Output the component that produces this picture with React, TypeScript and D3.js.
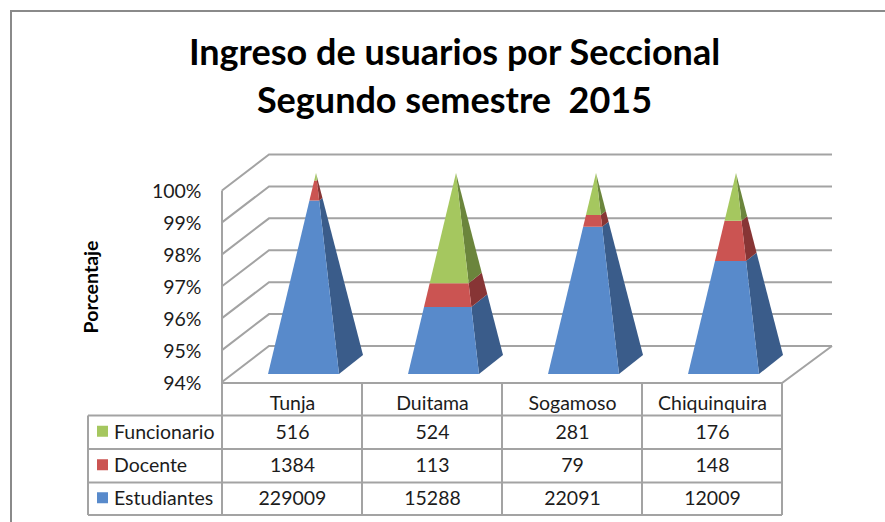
import React from "react";
import * as d3 from "d3";

const title = ["Ingreso de usuarios por Seccional", "Segundo semestre  2015"];
const categories = ["Tunja", "Duitama", "Sogamoso", "Chiquinquira"];
const seriesNames = ["Funcionario", "Docente", "Estudiantes"];
const funcionario = [516, 524, 281, 176];
const docente = [1384, 113, 79, 148];
const estudiantes = [229009, 15288, 22091, 12009];
const pctTicks = [94, 95, 96, 97, 98, 99, 100];
const front = ["#A5C75F", "#CB5452", "#588ACB"];
const side = ["#6B853C", "#873535", "#3A5C8A"];

const GRID = "#a3a3a3";
const FONT = "Lato, Carlito, sans-serif";
const TEXT = "#1c1c1c";
const LINE = 2;
type P = [number, number];

const x = d3.scaleBand<string>().domain(categories).range([222, 782]);
const yFront = d3.scaleLinear().domain([94, 100]).range([382, 190.5]);
const depthX = 47;
const depthY = -36;
const rows = [415.5, 449, 482.5, 515];

function lerp(a: P, b: P, t: number): P {
  return [a[0] + (b[0] - a[0]) * t, a[1] + (b[1] - a[1]) * t];
}
const poly = (pts: P[]) => d3.line()(pts) + "Z";

export default function App() {
  const stacks = categories.map((c, i) => {
    const total = funcionario[i] + docente[i] + estudiantes[i];
    const a = (estudiantes[i] / total) * 100;
    const b = ((estudiantes[i] + docente[i]) / total) * 100;
    return [[94, a, 2], [a, b, 1], [b, 100, 0]] as [number, number, number][];
  });
  const tScale = d3.scaleLinear().domain([94, 100]).range([0, 1]);
  return (
    <svg width={885} height={522} style={{ position: "absolute", left: 0, top: 0 }}>
      <rect width={885} height={522} fill="#fff" />
      <path d="M11,522V11H885" fill="none" stroke="#8a8a8a" strokeWidth={2} />
      {title.map((t, i) => (
        <text key={i} x={454.5} y={65 + i * 47.5} textAnchor="middle" fontFamily={FONT} fontWeight={700} fontSize={36} fill="#000" style={{ whiteSpace: "pre" }}>{t}</text>
      ))}
      <text transform="translate(98,287) rotate(-90)" textAnchor="middle" fontFamily={FONT} fontWeight={700} fontSize={19.5} fill="#000">Porcentaje</text>

      {pctTicks.map((p) => {
        const y = yFront(p);
        return (
          <g key={p}>
            <path d={`M222,${y}L${222 + depthX},${y + depthY}H832`} fill="none" stroke={GRID} strokeWidth={LINE} />
            <text x={201.5} y={y + 7.5} textAnchor="end" fontFamily={FONT} fontSize={19.5} fill={TEXT}>{p}%</text>
          </g>
        );
      })}
      <path d={`M222,${yFront(100)}V383H782L832,346`} fill="none" stroke={GRID} strokeWidth={LINE} />

      {categories.map((c, i) => {
        const x0 = x(c)! + 46;
        const w = 71;
        const fl: P = [x0, 374];
        const fr: P = [x0 + w, 374];
        const br: P = [x0 + w + 24, 355];
        const apex: P = [x0 + 48, 173];
        return (
          <g key={c}>
            {stacks[i].map(([lo, hi, s]) => {
              const t0 = tScale(lo), t1 = tScale(hi);
              return (
                <g key={s}>
                  <path d={poly([lerp(fr, apex, t0), lerp(br, apex, t0), lerp(br, apex, t1), lerp(fr, apex, t1)])} fill={side[s]} />
                  <path d={poly([lerp(fl, apex, t0), lerp(fr, apex, t0), lerp(fr, apex, t1), lerp(fl, apex, t1)])} fill={front[s]} />
                </g>
              );
            })}
          </g>
        );
      })}

      <g fill="none" stroke={GRID} strokeWidth={LINE}>
        <path d={`M88,${rows[0]}H782M88,${rows[1]}H782M88,${rows[2]}H782M88,${rows[3]}H782`} />
        <path d={`M88,${rows[0]}V${rows[3]}`} />
        {[...categories.map((c) => x(c)!), 782].map((v) => (
          <path key={v} d={`M${v},383V${rows[3]}`} />
        ))}
      </g>
      {categories.map((c) => (
        <text key={c} x={x(c)! + 70.5} y={410} textAnchor="middle" fontFamily={FONT} fontSize={19.5} fill={TEXT}>{c}</text>
      ))}
      {seriesNames.map((s, r) => {
        const vals = [funcionario, docente, estudiantes][r];
        const yc = (rows[r] + rows[r + 1]) / 2;
        return (
          <g key={s}>
            <rect x={97} y={yc - 6.5} width={11} height={11} fill={front[r]} />
            <text x={114} y={yc + 6.3} fontFamily={FONT} fontSize={19.5} fill={TEXT}>{s}</text>
            {categories.map((c, i) => (
              <text key={c} x={x(c)! + 70.5} y={yc + 6.3} textAnchor="middle" fontFamily={FONT} fontSize={19.5} fill={TEXT}>{vals[i]}</text>
            ))}
          </g>
        );
      })}
    </svg>
  );
}
